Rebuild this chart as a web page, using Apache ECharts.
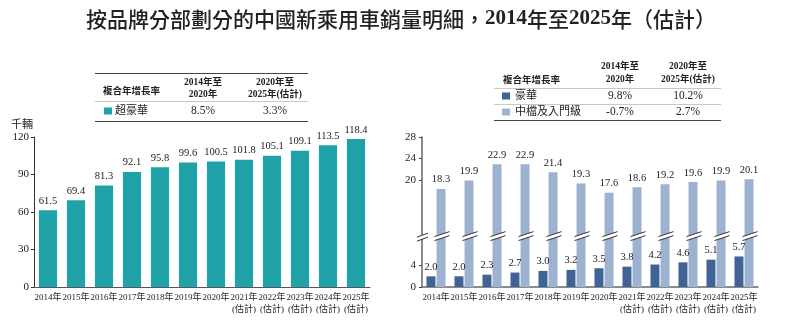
<!DOCTYPE html>
<html><head><meta charset="utf-8">
<script src="https://cdn.jsdelivr.net/npm/echarts@6/dist/echarts.min.js"></script>
<style>html,body{margin:0;padding:0;background:#fff}#c{width:802px;height:326px}</style>
</head><body><div id="c"></div>
<script>
// ---- data ----
const categories = ['2014年','2015年','2016年','2017年','2018年','2019年','2020年',
  '2021年\n(估計)','2022年\n(估計)','2023年\n(估計)','2024年\n(估計)','2025年\n(估計)'];
const superLuxury = [61.5, 69.4, 81.3, 92.1, 95.8, 99.6, 100.5, 101.8, 105.1, 109.1, 113.5, 118.4];
const luxury = [2.0, 2.0, 2.3, 2.7, 3.0, 3.2, 3.5, 3.8, 4.2, 4.6, 5.1, 5.7];
const midEntry = [18.3, 19.9, 22.9, 22.9, 21.4, 19.3, 17.6, 18.6, 19.2, 19.6, 19.9, 20.1];
const rightTicks = [0, 4, 20, 24, 28];
const breakValue = 9.5;
const titleParts = [['a', '按品牌分部劃分的中國新乘用車銷量明細，'], ['b', '2014'], ['a', '年至'],
  ['b', '2025'], ['a', '年（估計）']];
const unitText = '千輛';
const cagrHeader = '複合年增長率';
const periodHeaders = [['2014年至', '2020年'], ['2020年至', '2025年(估計)']];
const seriesNames = ['超豪華', '豪華', '中檔及入門級'];
const cagrSuperLuxury = ['8.5%', '3.3%'];
const cagrLuxury = ['9.8%', '10.2%'];
const cagrMidEntry = ['-0.7%', '2.7%'];

// ---- style ----
const FONT = '"Liberation Serif", "Noto Sans CJK TC", serif';
const TEAL = '#1fa3a9', DARK = '#3f6395', LIGHT = '#9db1d1', TXT = '#222';

const chart = echarts.init(document.getElementById('c'), null, {renderer: 'canvas'});

function txt(text, x, y, opt) {
  return Object.assign({type: 'text', x: x, y: y, silent: true,
    style: Object.assign({text: text, fill: TXT, fontFamily: FONT, fontSize: 10,
      align: 'left', verticalAlign: 'middle'}, opt || {})});
}
function hline(x1, x2, y, color, w) {
  return {type: 'line', silent: true, shape: {x1: x1, y1: y, x2: x2, y2: y},
    style: {stroke: color, lineWidth: w || 1}};
}
function sq(x, y, color) {
  return {type: 'rect', silent: true, shape: {x: x, y: y, width: 8, height: 7}, style: {fill: color}};
}

const graphics = [];
graphics.push(txt(titleParts.map(p => '{' + p[0] + '|' + p[1] + '}').join(''), 401, 19, {
  align: 'center', fontSize: 21,
  rich: {
    a: {fontSize: 21, fontFamily: '"Noto Sans CJK TC", sans-serif', fontWeight: 500, fill: '#222'},
    b: {fontSize: 21, fontFamily: '"Liberation Serif", serif', fontWeight: 'bold', fill: '#222'}
  }}));
// left table
graphics.push(hline(95, 308, 73.5, '#444', 1));
graphics.push(txt(cagrHeader, 103, 92, {fontSize: 9.5, fontWeight: 'bold'}));
graphics.push(txt(periodHeaders[0][0], 203, 83, {fontSize: 9.5, fontWeight: 'bold', align: 'center'}));
graphics.push(txt(periodHeaders[0][1], 203, 95, {fontSize: 9.5, fontWeight: 'bold', align: 'center'}));
graphics.push(txt(periodHeaders[1][0], 275, 83, {fontSize: 9.5, fontWeight: 'bold', align: 'center'}));
graphics.push(txt(periodHeaders[1][1], 275, 95, {fontSize: 9.5, fontWeight: 'bold', align: 'center'}));
graphics.push(hline(95, 308, 101.5, '#c8c8c8', 1.2));
graphics.push(sq(104, 107.5, TEAL));
graphics.push(txt(seriesNames[0], 115, 111, {fontSize: 11}));
graphics.push(txt(cagrSuperLuxury[0], 203, 111, {fontSize: 11.5, align: 'center'}));
graphics.push(txt(cagrSuperLuxury[1], 275, 111, {fontSize: 11.5, align: 'center'}));
graphics.push(hline(95, 308, 121.5, '#444', 1));
// right table
graphics.push(txt(cagrHeader, 503, 81, {fontSize: 9.5, fontWeight: 'bold'}));
graphics.push(txt(periodHeaders[0][0], 620, 67, {fontSize: 9.5, fontWeight: 'bold', align: 'center'}));
graphics.push(txt(periodHeaders[0][1], 620, 80, {fontSize: 9.5, fontWeight: 'bold', align: 'center'}));
graphics.push(txt(periodHeaders[1][0], 688, 67, {fontSize: 9.5, fontWeight: 'bold', align: 'center'}));
graphics.push(txt(periodHeaders[1][1], 688, 80, {fontSize: 9.5, fontWeight: 'bold', align: 'center'}));
graphics.push(hline(494, 721, 88.5, '#c8c8c8', 1.2));
graphics.push(sq(502, 92.5, DARK));
graphics.push(txt(seriesNames[1], 515, 96, {fontSize: 11}));
graphics.push(txt(cagrLuxury[0], 620, 96, {fontSize: 11.5, align: 'center'}));
graphics.push(txt(cagrLuxury[1], 688, 96, {fontSize: 11.5, align: 'center'}));
graphics.push(hline(494, 721, 104.5, '#c8c8c8', 1.2));
graphics.push(sq(502, 108.5, LIGHT));
graphics.push(txt(seriesNames[2], 515, 112, {fontSize: 11}));
graphics.push(txt(cagrMidEntry[0], 620, 112, {fontSize: 11.5, align: 'center'}));
graphics.push(txt(cagrMidEntry[1], 688, 112, {fontSize: 11.5, align: 'center'}));
graphics.push(hline(494, 721, 120.5, '#444', 1));
// unit
graphics.push(txt(unitText, 33, 125, {fontSize: 11, align: 'right'}));

function breakShape(xa, xb, yc, slope) {
  const g = 4;
  const yaTop = yc - g / 2 + slope, ybTop = yc - g / 2 - slope;
  return [
    {type: 'polygon', shape: {points: [[xa, yaTop], [xb, ybTop], [xb, ybTop + g], [xa, yaTop + g]]},
      style: {fill: '#fff'}},
    {type: 'line', shape: {x1: xa, y1: yaTop, x2: xb, y2: ybTop}, style: {stroke: '#333', lineWidth: 1}},
    {type: 'line', shape: {x1: xa, y1: yaTop + g, x2: xb, y2: ybTop + g}, style: {stroke: '#333', lineWidth: 1}}
  ];
}
function renderBarBreak(params, api) {
  const c = api.coord([api.value(0), api.value(1)]);
  const left = c[0] + 0.5, right = c[0] + 9.5;
  return {type: 'group', children: breakShape(left - 2, right + 4, c[1], 2.5)};
}
function renderAxisBreak(params, api) {
  const c = api.coord([api.value(0), api.value(1)]);
  const ax = params.coordSys.x;
  return {type: 'group', children: breakShape(ax - 5, ax + 6, c[1] + 1, 2)};
}

const xLabel = {interval: 0, fontSize: 9, lineHeight: 12, color: TXT, fontFamily: FONT, margin: 5};
const valLabel = {show: true, position: 'top', distance: 4, fontSize: 10.5, color: TXT, fontFamily: FONT,
  formatter: p => p.value.toFixed(1)};

chart.setOption({
  animation: false,
  graphic: graphics,
  grid: [
    {left: 34, right: 432, top: 137, bottom: 39},
    {left: 422, right: 44, top: 137, bottom: 39}
  ],
  xAxis: [
    {type: 'category', gridIndex: 0, data: categories,
      axisLine: {lineStyle: {color: '#555', width: 1}}, axisTick: {show: false}, axisLabel: xLabel},
    {type: 'category', gridIndex: 1, data: categories,
      axisLine: {lineStyle: {color: '#666', width: 1.5}}, axisTick: {show: false}, axisLabel: xLabel}
  ],
  yAxis: [
    {type: 'value', gridIndex: 0, min: 0, max: 120, interval: 30,
      axisLine: {show: true, lineStyle: {color: '#333'}},
      axisTick: {show: true, length: 3, lineStyle: {color: '#333'}},
      splitLine: {show: false},
      axisLabel: {fontSize: 11, color: TXT, fontFamily: FONT, margin: 5}},
    {type: 'value', gridIndex: 1, min: 0, max: 28, interval: 4,
      axisLine: {show: true, lineStyle: {color: '#666', width: 1.5}},
      axisTick: {show: true, length: 3, customValues: rightTicks, lineStyle: {color: '#444'}},
      splitLine: {show: false},
      axisLabel: {fontSize: 11, color: TXT, fontFamily: FONT, margin: 6, customValues: rightTicks}}
  ],
  series: [
    {type: 'bar', name: seriesNames[0], xAxisIndex: 0, yAxisIndex: 0, data: superLuxury,
      barWidth: '65%', itemStyle: {color: TEAL}, label: valLabel},
    {type: 'bar', name: seriesNames[1], xAxisIndex: 1, yAxisIndex: 1, data: luxury,
      barWidth: 9, barGap: '12%', itemStyle: {color: DARK}, label: valLabel},
    {type: 'bar', name: seriesNames[2], xAxisIndex: 1, yAxisIndex: 1, data: midEntry,
      barWidth: 9, barGap: '12%', itemStyle: {color: LIGHT}, label: valLabel},
    {type: 'custom', xAxisIndex: 1, yAxisIndex: 1, silent: true, z: 10, clip: false,
      renderItem: renderBarBreak, data: midEntry.map((v, i) => [i, breakValue])},
    {type: 'custom', xAxisIndex: 1, yAxisIndex: 1, silent: true, z: 10, clip: false,
      renderItem: renderAxisBreak, data: [[0, breakValue]]}
  ]
});
</script>
</body></html>
